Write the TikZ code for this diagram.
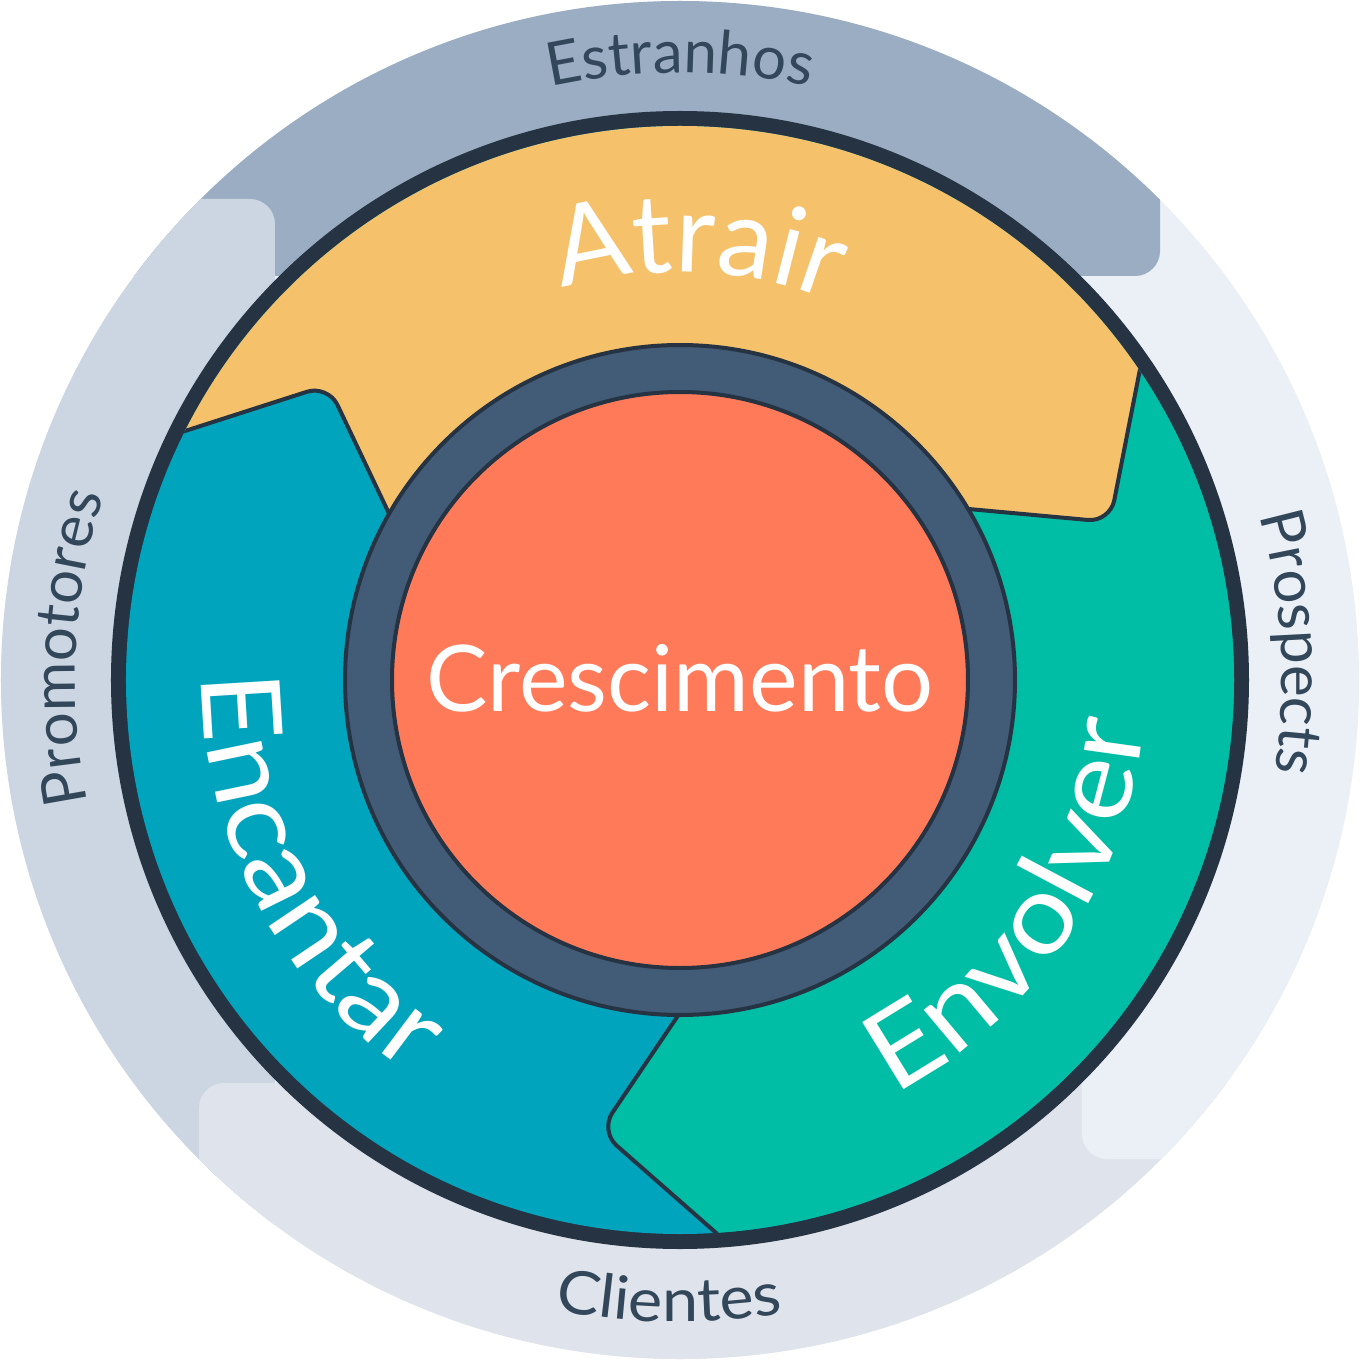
\documentclass[tikz,border=0pt]{standalone}
\usepackage{fontspec}
\setmainfont{Lato}
\newfontfamily\widelato[FakeStretch=1.1]{Lato}
\newfontfamily\looselato[FakeStretch=1.08]{Lato}
\usetikzlibrary{decorations.text}

\definecolor{rimdark}{HTML}{253342}
\definecolor{hubring}{HTML}{425B76}
\definecolor{growth}{HTML}{FF7A59}
\definecolor{attract}{HTML}{F5C26B}
\definecolor{engage}{HTML}{00BDA5}
\definecolor{delight}{HTML}{00A4BD}
\definecolor{labelink}{HTML}{33475B}
\definecolor{strangers}{HTML}{9BADC2}
\definecolor{promoters}{HTML}{CBD6E2}
\definecolor{customers}{HTML}{DFE3EB}
\definecolor{prospects}{HTML}{EAF0F6}

\newcommand{\outerfont}{\fontsize{60}{60}\selectfont}
\newcommand{\looseouterfont}{\looselato\fontsize{60}{60}\selectfont}
\newcommand{\stagefont}{\fontsize{110}{110}\selectfont}
\newcommand{\widestagefont}{\widelato\fontsize{110}{110}\selectfont}
\newcommand{\centerfont}{\fontsize{92}{92}\selectfont}

\begin{document}
\begin{tikzpicture}[x=1pt, y=1pt,
    seam/.style={draw=rimdark, line width=4pt, rounded corners=22pt},
    arclabel/.style={decorate, decoration={text along path, text align=center, text color=#1}}]
\useasboundingbox (-680,-680) rectangle (680,680);

\coordinate (aout) at (-638, 203);
\coordinate (acorner) at (-352, 295);
\coordinate (ain) at (-277, 137);
\coordinate (bout) at (484, 433);
\coordinate (bcorner) at (430, 158);
\coordinate (bin) at (256, 174);
\coordinate (cout) at (108, -616);
\coordinate (ccorner) at (-80, -451);
\coordinate (cin) at (18, -306);

% outer ring
\begin{scope}
\clip (0,0) circle [radius=679];
\fill [prospects] (-700,-700) rectangle (700,700);
\fill [strangers, rounded corners=25pt] (-700,404) rectangle (480,700);
\fill [promoters, rounded corners=25pt] (-700,-700) rectangle (-405,481);
\fill [customers, rounded corners=25pt] (-481,-700) rectangle (700,-403);
\fill [prospects, rounded corners=25pt] (402,-479) rectangle (700,0);
\end{scope}

\fill [rimdark] (0,0) circle [radius=569];

% the three stages
\begin{scope}
\clip (0,0) circle [radius=554];
\fill [delight] (-560,-560) rectangle (560,560);
\fill [attract, rounded corners=22pt] (0,0) -- (ain) -- (acorner) -- (aout) -- (-700,700) -- (700,700) -- (bout) -- (bcorner) -- (bin) -- cycle;
\fill [engage, rounded corners=22pt] (0,0) -- (bin) -- (bcorner) -- (bout) -- (800,500) -- (800,-800) -- (cout) -- (ccorner) -- (cin) -- cycle;
\draw [seam] (aout) -- (acorner) -- (ain);
\draw [seam] (bout) -- (bcorner) -- (bin);
\draw [seam] (cout) -- (ccorner) -- (cin);
\end{scope}

\filldraw [fill=hubring, draw=rimdark, line width=4pt] (0,0) circle [radius=335];
\filldraw [fill=growth, draw=rimdark, line width=4pt] (0,0) circle [radius=288];
\node [white, font=\centerfont] (growthlabel) at (0,2) {Crescimento};

% labels on arcs
\path [arclabel=labelink, decoration={text={|\outerfont|Estranhos}}] (130:607) arc [start angle=130, end angle=50, radius=607];
\path [arclabel=labelink, decoration={text={|\outerfont|Prospects}}] (43.5:602) arc [start angle=43.5, end angle=-36.5, radius=602];
\path [arclabel=labelink, decoration={text={|\looseouterfont|Clientes}}] (229:642) arc [start angle=229, end angle=309, radius=642];
\path [arclabel=labelink, decoration={text={|\outerfont|Promotores}}] (217:605) arc [start angle=217, end angle=137, radius=605];
\path [arclabel=white, decoration={text={|\stagefont|Atrair}}] (127.5:408) arc [start angle=127.5, end angle=47.5, radius=408];
\path [arclabel=white, decoration={text={|\widestagefont|Encantar}}] (167.5:478) arc [start angle=167.5, end angle=247.5, radius=478];
\path [arclabel=white, decoration={text={|\widestagefont|Envolver}}] (-74:466) arc [start angle=-74, end angle=6, radius=466];
\end{tikzpicture}
\end{document}
